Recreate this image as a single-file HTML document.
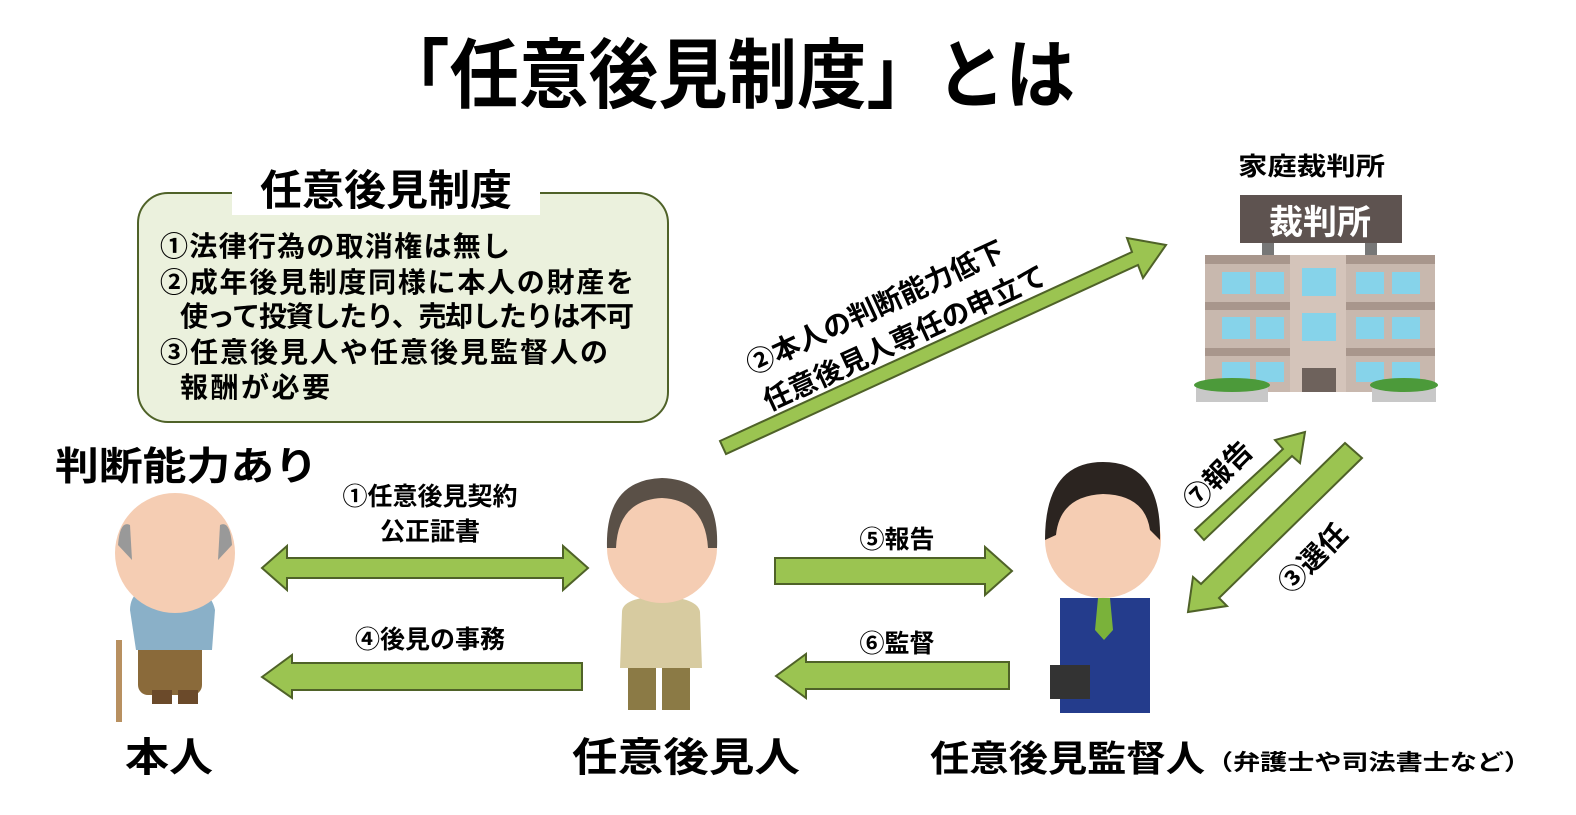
<!DOCTYPE html>
<html><head><meta charset="utf-8">
<style>
html,body{margin:0;padding:0;background:#fff;}
svg text{font-family:"Liberation Sans","Noto Sans CJK JP",sans-serif;font-weight:bold;fill:#000;}
</style></head>
<body>
<svg width="1576" height="810" viewBox="0 0 1576 810" xmlns="http://www.w3.org/2000/svg">
<defs>
<style>.ar{fill:#9bc451;stroke:#4f6228;stroke-width:2;}</style>
</defs>
<!-- title -->
<text x="380" y="102" font-size="76" textLength="695" lengthAdjust="spacingAndGlyphs">「任意後見制度」とは</text>

<!-- info box -->
<rect x="138" y="193" width="530" height="229" rx="30" fill="#ebf1dd" stroke="#4f6228" stroke-width="2"/>
<rect x="232" y="160" width="308" height="55" fill="#fff"/>
<text x="386" y="205" font-size="42" text-anchor="middle">任意後見制度</text>
<g font-size="28">
<text x="160" y="256" textLength="350">①法律行為の取消権は無し</text>
<text x="160" y="292" textLength="474">②成年後見制度同様に本人の財産を</text>
<text x="180" y="326" textLength="454">使って投資したり、売却したりは不可</text>
<text x="160" y="362" textLength="448">③任意後見人や任意後見監督人の</text>
<text x="180" y="397" textLength="150">報酬が必要</text>
</g>

<!-- court -->
<text x="1238" y="175" font-size="25" textLength="147" lengthAdjust="spacingAndGlyphs">家庭裁判所</text>
<g>
<rect x="1262" y="238" width="12" height="20" fill="#777"/>
<rect x="1365" y="238" width="12" height="20" fill="#777"/>
<rect x="1240" y="195" width="162" height="48" fill="#5e5350"/>
<text x="1320" y="234" font-size="34" text-anchor="middle" style="fill:#fff">裁判所</text>
<rect x="1205" y="255" width="230" height="137" fill="#c8b8ae"/>
<rect x="1205" y="255" width="230" height="9" fill="#a8968c"/>
<rect x="1205" y="302" width="230" height="8" fill="#a8968c"/>
<rect x="1205" y="348" width="230" height="8" fill="#a8968c"/>
<rect x="1290" y="255" width="56" height="137" fill="#d4c4ba"/>
<g fill="#86d3ea">
<rect x="1222" y="272" width="28" height="22"/><rect x="1256" y="272" width="28" height="22"/>
<rect x="1302" y="268" width="34" height="28"/>
<rect x="1356" y="272" width="28" height="22"/><rect x="1392" y="272" width="28" height="22"/>
<rect x="1222" y="317" width="28" height="22"/><rect x="1256" y="317" width="28" height="22"/>
<rect x="1302" y="313" width="34" height="28"/>
<rect x="1356" y="317" width="28" height="22"/><rect x="1392" y="317" width="28" height="22"/>
<rect x="1222" y="362" width="28" height="20"/><rect x="1256" y="362" width="28" height="20"/>
<rect x="1356" y="362" width="28" height="20"/><rect x="1392" y="362" width="28" height="20"/>
</g>
<rect x="1302" y="368" width="34" height="24" fill="#6e625c"/>
<rect x="1196" y="385" width="72" height="17" fill="#c8c8c8"/>
<rect x="1372" y="385" width="64" height="17" fill="#c8c8c8"/>
<ellipse cx="1232" cy="385" rx="38" ry="7" fill="#4c9a3a"/>
<ellipse cx="1404" cy="385" rx="34" ry="7" fill="#4c9a3a"/>
</g>

<!-- arrow ② diagonal -->
<polygon class="ar" points="720,441 1132,252 1127,238 1166,245 1143,278 1138,265 726,454" />
<g transform="translate(752,375) rotate(-24.7)" font-size="28">
<text x="0" y="0">②本人の判断能力低下</text>
<text x="0" y="40">任意後見人専任の申立て</text>
</g>

<!-- ⑦ and ③ -->
<polygon class="ar" points="1195,530 1283,449 1275,440 1305,432 1300,463 1292,456 1204,540"/>
<polygon class="ar" points="1362,458 1219,598 1227,606 1188,612 1193,577 1201,584 1345,443"/>
<g font-size="28">
<text transform="translate(1195,512) rotate(-45)">⑦報告</text>
<text transform="translate(1290,595) rotate(-45)">③選任</text>
</g>

<!-- horizontal arrows -->
<polygon class="ar" points="262,568 287,546 287,558 563,558 563,546 588,568 563,590 563,578 287,578 287,590"/>
<polygon class="ar" points="262,677 292,655 292,663 582,663 582,690 292,690 292,698"/>
<polygon class="ar" points="775,558 985,558 985,547 1012,571 985,595 985,584 775,584"/>
<polygon class="ar" points="776,676 806,654 806,662 1009,662 1009,689 806,689 806,698"/>
<g font-size="25">
<text x="430" y="505" text-anchor="middle">①任意後見契約</text>
<text x="430" y="540" text-anchor="middle">公正証書</text>
<text x="430" y="648" text-anchor="middle">④後見の事務</text>
<text x="897" y="548" text-anchor="middle">⑤報告</text>
<text x="897" y="652" text-anchor="middle">⑥監督</text>
</g>

<!-- 本人 figure -->
<g>
<rect x="116" y="640" width="6" height="82" fill="#b89060"/>
<rect x="138" y="640" width="64" height="55" rx="10" fill="#8a6a3a"/>
<rect x="152" y="690" width="20" height="14" fill="#6b4a2a"/>
<rect x="178" y="690" width="20" height="14" fill="#6b4a2a"/>
<path d="M130 610 Q130 585 170 580 Q210 585 215 610 L212 650 L136 650 Z" fill="#8ab0c8"/>
<circle cx="175" cy="553" r="60" fill="#f5cdb3"/>
<path d="M118 545 Q120 520 130 525 L132 560 Z" fill="#999"/>
<path d="M232 545 Q230 520 220 525 L218 560 Z" fill="#999"/>
</g>

<!-- 任意後見人 figure -->
<g>
<rect x="628" y="660" width="28" height="50" fill="#8b7a45"/>
<rect x="662" y="660" width="28" height="50" fill="#8b7a45"/>
<path d="M622 612 Q622 598 660 596 Q698 598 700 612 L702 668 L620 668 Z" fill="#d7cba0"/>
<circle cx="662" cy="548" r="55" fill="#f5cdb3"/>
<path d="M607 548 Q605 480 662 478 Q720 480 717 548 L708 548 Q705 500 662 498 Q618 500 616 548 Z" fill="#5a5047"/>
</g>

<!-- 監督人 figure -->
<g>
<rect x="1060" y="598" width="90" height="115" fill="#243c8c"/>
<rect x="1050" y="665" width="40" height="34" fill="#333"/>
<polygon points="1098,598 1110,598 1113,630 1104,640 1095,630" fill="#7ab23a"/>
<circle cx="1103" cy="540" r="58" fill="#f5cdb3"/>
<path d="M1045 540 Q1045 462 1103 462 Q1162 462 1160 540 L1150 530 Q1145 495 1103 494 Q1060 496 1056 535 Z" fill="#2b2420"/>
</g>

<!-- labels -->
<text x="55" y="480" font-size="39" textLength="263" lengthAdjust="spacingAndGlyphs">判断能力あり</text>
<text x="125" y="771" font-size="40" textLength="88" lengthAdjust="spacingAndGlyphs">本人</text>
<text x="572" y="771" font-size="40" textLength="228" lengthAdjust="spacingAndGlyphs">任意後見人</text>
<text x="930" y="771" font-size="36" textLength="275" lengthAdjust="spacingAndGlyphs">任意後見監督人</text>
<text x="1206" y="770" font-size="22" textLength="325" lengthAdjust="spacingAndGlyphs">（弁護士や司法書士など）</text>
</svg>
</body></html>
